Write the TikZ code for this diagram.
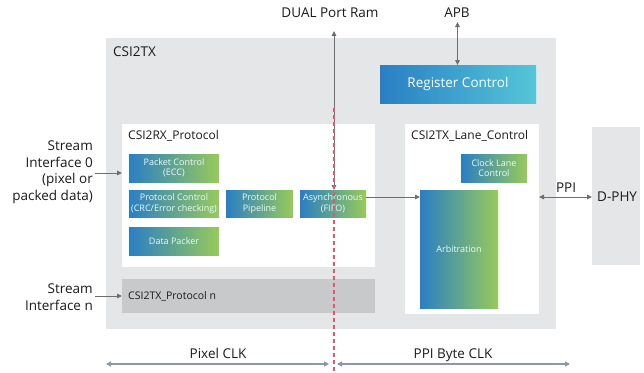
\documentclass[tikz,border=0pt]{standalone}
\usepackage{fontspec}
\setmainfont{Open Sans}
\usetikzlibrary{arrows.meta,calc}
\definecolor{bggray}{HTML}{E5E6E8}
\definecolor{pngray}{HTML}{C8C9CB}
\definecolor{gblue}{HTML}{2A7FC4}
\definecolor{gcyan}{HTML}{52C4D6}
\definecolor{ggreen}{HTML}{98CA5A}
\definecolor{rcyan}{HTML}{55C6D8}
\definecolor{arrgray}{HTML}{6E6E6E}
\definecolor{clkgray}{HTML}{8A98A4}
\definecolor{reddash}{HTML}{E8546E}
\definecolor{txt}{HTML}{1A1A1A}
\begin{document}
\begin{tikzpicture}[x=1pt,y=-1pt,
  every node/.style={text=txt},
  box/.style={anchor=north west, inner sep=0pt, outer sep=0pt, align=center},
  graybox/.style={box, fill=bggray},
  whitebox/.style={box, fill=white},
  grad/.style={box, left color=gblue, middle color=gcyan, right color=ggreen,
     text=white!90!gcyan, font=\fontsize{9}{10.5}\selectfont},
  big/.style={font=\fontsize{13.5}{16.5}\selectfont},
  mid/.style={font=\fontsize{12}{14}\selectfont},
  conn/.style={draw=arrgray, line width=0.9pt, -{Triangle[length=5pt,width=4.5pt]}},
  dconn/.style={draw=arrgray, line width=0.9pt, {Triangle[length=5pt,width=4.5pt]}-{Triangle[length=5pt,width=4.5pt]}},
  clk/.style={draw=clkgray, line width=1.1pt, {Triangle[length=5pt,width=5pt]}-{Triangle[length=5pt,width=5pt]}},
]
\useasboundingbox (0,0) rectangle (644,372);

% backgrounds
\node[graybox, minimum width=450pt, minimum height=291pt] (csi2tx) at (106,38) {};
\node[big, anchor=base west, inner sep=0pt] (csi2txlbl) at (113,56) {CSI2TX};
\node[graybox, minimum width=48pt, minimum height=138pt] (dphy) at (592,127) {};
\node[big, anchor=base west, inner sep=0pt] (dphylbl) at (597,201) {D-PHY};

% register control
\node[box, left color=gblue, right color=rcyan, text=white, big,
      minimum width=156pt, minimum height=38pt] (reg) at (380,65) {Register Control};

% CSI2RX protocol
\node[whitebox, minimum width=253pt, minimum height=143pt] (rxp) at (122,124) {};
\node[mid, anchor=base west, inner sep=0pt] (rxplbl) at (128,139) {CSI2RX\_Protocol};
\node[grad, minimum width=90pt, minimum height=28pt] (pkt) at (129,154) {Packet Control\\(ECC)};
\node[grad, minimum width=90pt, minimum height=27pt] (pctl) at (129,190) {Protocol Control\\(CRC/Error checking)};
\node[grad, minimum width=67pt, minimum height=27pt] (pipe) at (226,190) {Protocol\\Pipeline};
\node[grad, minimum width=66pt, minimum height=27pt] (async) at (300,190) {Asynchronous\\(FIFO)};
\node[grad, minimum width=90pt, minimum height=28pt] (dpk) at (129,227) {Data Packer};

% protocol n
\node[box, fill=pngray, minimum width=253pt, minimum height=34pt] (pn) at (122,279) {};
\node[font=\fontsize{10.5}{12}\selectfont, anchor=west, inner sep=0pt] (pnlbl) at (128,296.5) {CSI2TX\_Protocol n};

% lane control
\node[whitebox, minimum width=134pt, minimum height=190pt] (lane) at (405,124) {};
\node[mid, anchor=base west, inner sep=0pt] (lanelbl) at (411,139) {CSI2TX\_Lane\_Control};
\node[grad, minimum width=66pt, minimum height=28pt] (clkl) at (461,154) {Clock Lane\\Control};
\node[grad, minimum width=78pt, minimum height=118pt] (arb) at (420,190) {Arbitration};

% external labels
\node[big, align=right, anchor=east, inner sep=0pt] (s0) at (93,172) {Stream\\Interface 0\\(pixel or\\packed data)};
\node[big, align=right, anchor=east, inner sep=0pt] (sn) at (93,297) {Stream\\Interface n};
\node[big, anchor=base, inner sep=0pt] (dual) at (330,17) {DUAL Port Ram};
\node[big, anchor=base, inner sep=0pt] (apb) at (457,17) {APB};
\node[big, anchor=base, inner sep=0pt] (ppi) at (566,192) {PPI};
\node[big, anchor=base, inner sep=0pt] (pclk) at (218,358) {Pixel CLK};
\node[big, anchor=base, inner sep=0pt] (bclk) at (453,358) {PPI Byte CLK};

% coordinates
\coordinate (dp) at (334,31);
\coordinate (apbc) at (457.5,22);
\coordinate (ra) at (334,108);
\coordinate (rb) at (334,372);
\coordinate (pa) at (106,364);
\coordinate (pb) at (329,364);
\coordinate (ba) at (337,364);
\coordinate (bb) at (570,364);

% connectors
\draw[conn] (95,173) -- (rxp.west |- 0,173);
\draw[conn] (95,296) -- (pn.west |- 0,296);
\draw[conn] (async.east |- 0,197) -- (arb.west |- 0,197);
\draw[dconn] (lane.east |- 0,197) -- (dphy.west |- 0,197);
\draw[dconn] (apbc) -- (apbc |- reg.north);
\draw[dconn] (dp) -- (dp |- async.north);
\draw[clk] (pa) -- (pb);
\draw[clk] (ba) -- (bb);
\draw[draw=reddash, line width=1.5pt, dash pattern=on 4pt off 3pt] (ra) -- (rb);
\end{tikzpicture}
\end{document}
